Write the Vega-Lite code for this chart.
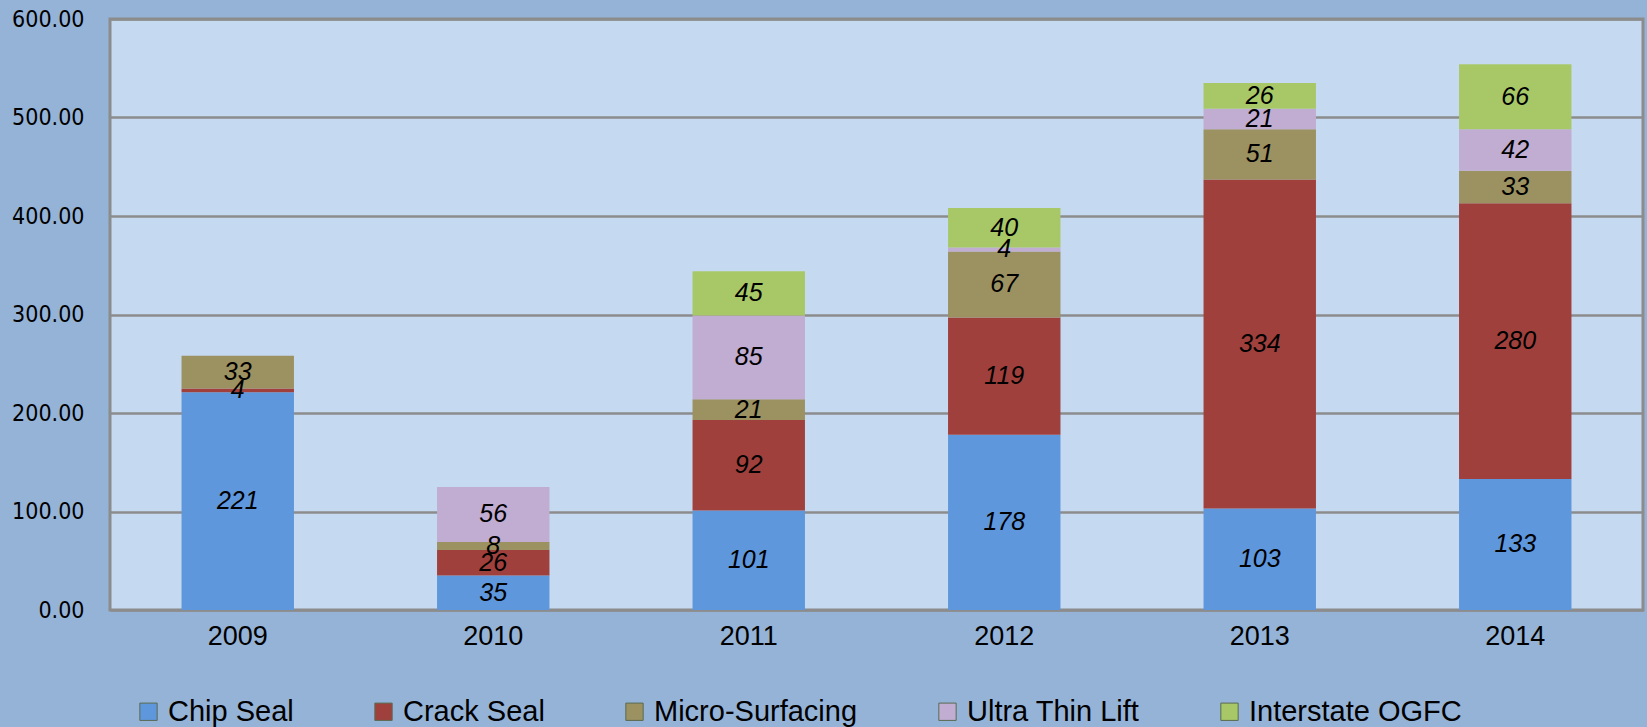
{
  "$schema": "https://vega.github.io/schema/vega-lite/v6.json",
  "width": 1533,
  "height": 591,
  "autosize": {"type": "none"},
  "padding": {"left": 110, "top": 19, "right": 4, "bottom": 117},
  "background": "#95B3D7",
  "data": {
    "values": [
      {"year": "2009", "type": "Chip Seal", "ord": 1, "value": 221},
      {"year": "2009", "type": "Crack Seal", "ord": 2, "value": 4},
      {"year": "2009", "type": "Micro-Surfacing", "ord": 3, "value": 33},
      {"year": "2010", "type": "Chip Seal", "ord": 1, "value": 35},
      {"year": "2010", "type": "Crack Seal", "ord": 2, "value": 26},
      {"year": "2010", "type": "Micro-Surfacing", "ord": 3, "value": 8},
      {"year": "2010", "type": "Ultra Thin Lift", "ord": 4, "value": 56},
      {"year": "2011", "type": "Chip Seal", "ord": 1, "value": 101},
      {"year": "2011", "type": "Crack Seal", "ord": 2, "value": 92},
      {"year": "2011", "type": "Micro-Surfacing", "ord": 3, "value": 21},
      {"year": "2011", "type": "Ultra Thin Lift", "ord": 4, "value": 85},
      {"year": "2011", "type": "Interstate OGFC", "ord": 5, "value": 45},
      {"year": "2012", "type": "Chip Seal", "ord": 1, "value": 178},
      {"year": "2012", "type": "Crack Seal", "ord": 2, "value": 119},
      {"year": "2012", "type": "Micro-Surfacing", "ord": 3, "value": 67},
      {"year": "2012", "type": "Ultra Thin Lift", "ord": 4, "value": 4},
      {"year": "2012", "type": "Interstate OGFC", "ord": 5, "value": 40},
      {"year": "2013", "type": "Chip Seal", "ord": 1, "value": 103},
      {"year": "2013", "type": "Crack Seal", "ord": 2, "value": 334},
      {"year": "2013", "type": "Micro-Surfacing", "ord": 3, "value": 51},
      {"year": "2013", "type": "Ultra Thin Lift", "ord": 4, "value": 21},
      {"year": "2013", "type": "Interstate OGFC", "ord": 5, "value": 26},
      {"year": "2014", "type": "Chip Seal", "ord": 1, "value": 133},
      {"year": "2014", "type": "Crack Seal", "ord": 2, "value": 280},
      {"year": "2014", "type": "Micro-Surfacing", "ord": 3, "value": 33},
      {"year": "2014", "type": "Ultra Thin Lift", "ord": 4, "value": 42},
      {"year": "2014", "type": "Interstate OGFC", "ord": 5, "value": 66}
    ]
  },
  "transform": [
    {"stack": "value", "groupby": ["year"], "sort": [{"field": "ord", "order": "ascending"}], "as": ["v0", "v1"]},
    {"calculate": "(datum.v0 + datum.v1) / 2", "as": "vmid"}
  ],
  "config": {
    "view": {"fill": "#C5D9F1", "stroke": "#8C8C8C", "strokeWidth": 3},
    "axis": {"grid": false}
  },
  "layer": [
    {
      "mark": {"type": "bar"},
      "encoding": {
        "x": {
          "field": "year", "type": "nominal",
          "scale": {"paddingInner": 0.56, "paddingOuter": 0.28},
          "axis": {"title": null, "labelAngle": 0, "ticks": false, "domain": false, "labelFont": "Liberation Sans", "labelFontSize": 27, "labelColor": "#000000", "labelPadding": 13}
        },
        "y": {
          "field": "v0", "type": "quantitative",
          "scale": {"domain": [0, 600], "nice": false},
          "axis": {"title": null, "values": [0, 100, 200, 300, 400, 500, 600], "format": ".2f", "grid": true, "gridColor": "#8C8C8C", "gridWidth": 2.5, "ticks": false, "domain": false, "labelFont": "DejaVu Sans Condensed", "labelFontSize": 23, "labelColor": "#000000", "labelPadding": 26}
        },
        "y2": {"field": "v1"},
        "color": {
          "field": "type", "type": "nominal",
          "scale": {
            "domain": ["Chip Seal", "Crack Seal", "Micro-Surfacing", "Ultra Thin Lift", "Interstate OGFC"],
            "range": ["#5F97DD", "#A0403D", "#9C9160", "#C0ADD1", "#A8C868"]
          },
          "legend": {
            "title": null,
            "orient": "none",
            "direction": "horizontal",
            "columns": 5,
            "columnPadding": 75,
            "legendX": 24,
            "legendY": 678,
            "padding": 0,
            "symbolType": "square",
            "symbolSize": 300,
            "symbolStrokeWidth": 1,
            "symbolStrokeColor": "#5a6a50",
            "symbolOpacity": 1,
            "labelFont": "Liberation Sans",
            "labelFontSize": 29,
            "labelColor": "#000000",
            "labelOffset": 5,
            "labelLimit": 400
          }
        },
        "order": {"field": "ord"}
      }
    },
    {
      "mark": {"type": "text", "font": "Liberation Sans", "fontSize": 25, "fontStyle": "italic", "color": "#000000", "baseline": "middle", "align": "center"},
      "encoding": {
        "x": {"field": "year", "type": "nominal"},
        "y": {"field": "vmid", "type": "quantitative"},
        "text": {"field": "value", "type": "quantitative"}
      }
    }
  ]
}
